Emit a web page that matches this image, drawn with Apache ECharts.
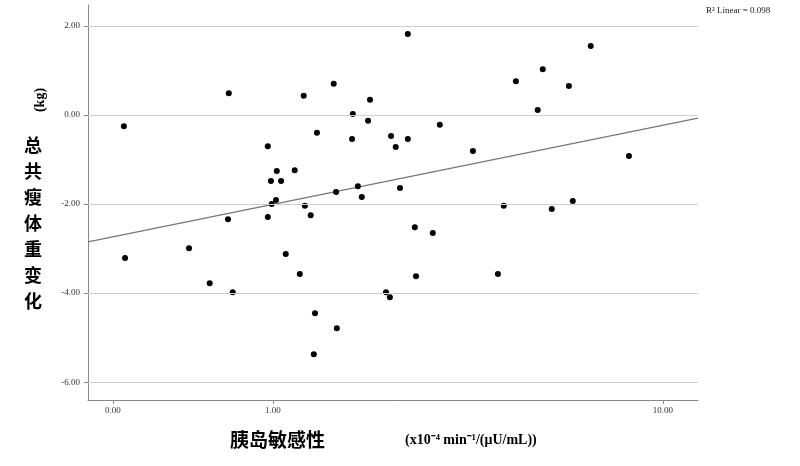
<!DOCTYPE html>
<html><head><meta charset="utf-8">
<script src="https://cdn.jsdelivr.net/npm/echarts@6/dist/echarts.min.js"></script>
<style>html,body{margin:0;background:#fff}#c{width:800px;height:466px}</style>
</head><body><div id="c"></div>
<script>
// x values are log10(insulin sensitivity)
const logSI = [-0.382,-0.379,-0.215,-0.162,-0.113,-0.115,-0.103,-0.013,-0.013,-0.005,-0.003,0.008,0.010,0.021,0.033,0.056,0.069,0.079,0.082,0.097,0.108,0.105,0.113,0.156,0.162,0.164,0.203,0.205,0.218,0.228,0.244,0.249,0.290,0.300,0.303,0.315,0.326,0.346,0.346,0.364,0.367,0.410,0.428,0.513,0.577,0.592,0.623,0.679,0.692,0.715,0.759,0.769,0.815,0.913];
const leanChange = [-0.25,-3.21,-2.99,-3.78,0.49,-2.34,-3.98,-0.70,-2.29,-1.48,-2.0,-1.91,-1.26,-1.48,-3.12,-1.24,-3.57,0.43,-2.04,-2.25,-4.45,-5.37,-0.40,0.70,-1.73,-4.79,-0.54,0.02,-1.60,-1.84,-0.13,0.34,-3.98,-4.09,-0.47,-0.72,-1.64,1.82,-0.54,-2.52,-3.62,-2.65,-0.22,-0.81,-3.57,-2.04,0.76,0.11,1.03,-2.11,0.65,-1.93,1.55,-0.92];
const fitX = [-0.474, 1.09];
const fitY = [-2.85, -0.07];
const xTickPos = [-0.41, 0, 1];
const xTickLabels = ['0.00','1.00','10.00'];
const yTicks = [2,0,-2,-4,-6];

const chart = echarts.init(document.getElementById('c'));
const serif = 'Liberation Serif';
chart.setOption({
  animation:false,
  grid:{left:88,right:102,top:5,bottom:66},
  xAxis:{type:'value',min:-0.474,max:1.09,
    axisLine:{onZero:false,lineStyle:{color:'#888'}},
    axisTick:{show:true,customValues:xTickPos,length:4,lineStyle:{color:'#888'}},
    axisLabel:{customValues:xTickPos,color:'#333',fontFamily:serif,fontSize:9,margin:6,
      formatter:v=>xTickLabels[xTickPos.findIndex(p=>Math.abs(p-v)<1e-6)]||''},
    splitLine:{show:false}},
  yAxis:{type:'value',min:-6.4,max:2.47,
    axisLine:{show:true,onZero:false,lineStyle:{color:'#888'}},
    axisTick:{show:true,customValues:yTicks,length:4,lineStyle:{color:'#888'}},
    axisLabel:{customValues:yTicks,color:'#333',fontFamily:serif,fontSize:9,formatter:v=>v.toFixed(2)},
    splitLine:{show:false}},
  series:[
    {type:'line',data:yTicks.map(()=>null),silent:true,
     markLine:{symbol:'none',silent:true,label:{show:false},lineStyle:{color:'#cfcfcf',type:'solid',width:1},
       data:yTicks.map(v=>({yAxis:v}))}},
    {type:'line',data:fitX.map((x,i)=>[x,fitY[i]]),symbol:'none',lineStyle:{color:'#777',width:1.2},z:3},
    {type:'scatter',data:logSI.map((x,i)=>[x,leanChange[i]]),symbolSize:6,itemStyle:{color:'#000',opacity:1},z:4}
  ],
  graphic:[
    {type:'text',left:706,top:6,style:{text:'R² Linear = 0.098',font:'9px '+serif,fill:'#222'}},
    {type:'text',left:24,top:132,style:{text:'总\n共\n瘦\n体\n重\n变\n化',font:'bold 18px "Noto Sans CJK SC"',lineHeight:26,fill:'#000'}},
    {type:'text',x:40,y:100,rotation:Math.PI/2,style:{text:'(kg)',font:'bold 14px '+serif,fill:'#000',align:'center',verticalAlign:'middle'}},
    {type:'text',left:230,top:430,style:{text:'胰岛敏感性',font:'bold 19px "Noto Sans CJK SC"',fill:'#000'}},
    {type:'text',left:405,top:433,style:{text:'(x10⁻⁴ min⁻¹/(μU/mL))',font:'bold 14px '+serif,fill:'#000'}}
  ]
});
</script></body></html>
